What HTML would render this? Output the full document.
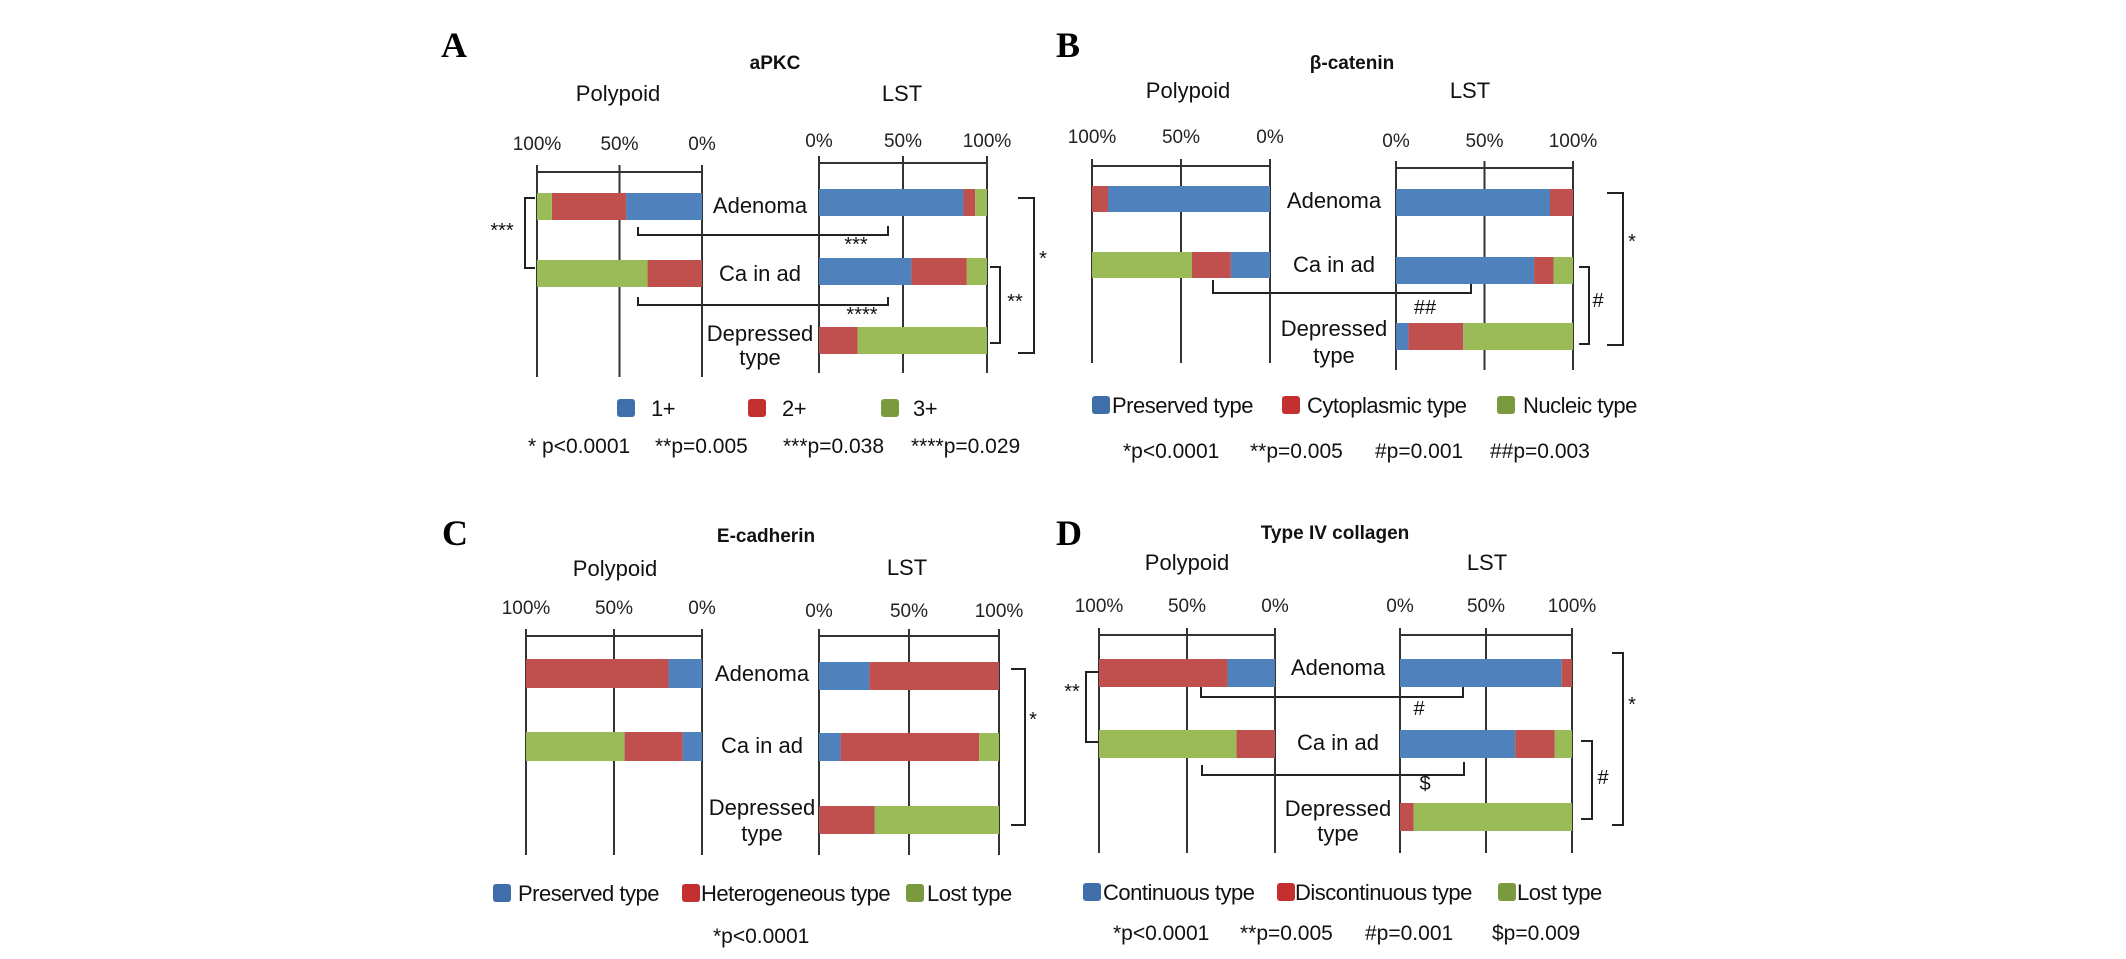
<!DOCTYPE html>
<html><head><meta charset="utf-8"><style>
html,body{margin:0;padding:0;background:#fff;}
svg{display:block;font-family:"Liberation Sans",sans-serif;}
</style></head><body>
<svg id="fig" width="2126" height="959" viewBox="0 0 2126 959" xmlns="http://www.w3.org/2000/svg">
<rect width="2126" height="959" fill="#fff"/>
<g id="static" stroke="#222" stroke-width="2" fill="none">
  <!-- A annotations -->
  <path d="M535,198 H525 V268 H535"/>
  <path d="M638,227 V235 H888 V226"/>
  <path d="M638,297 V305 H888 V297"/>
  <path d="M990,267 H1000 V343 H990"/>
  <path d="M1018,198 H1034 V353 H1018"/>
  <!-- B -->
  <path d="M1213,280 V293 H1471 V278"/>
  <path d="M1579,267 H1589 V344 H1579"/>
  <path d="M1607,193 H1623 V345 H1607"/>
  <!-- C -->
  <path d="M1011,669 H1025 V825 H1011"/>
  <!-- D -->
  <path d="M1098,672 H1086 V742 H1098"/>
  <path d="M1201,687 V697 H1463 V687"/>
  <path d="M1202,765 V775 H1464 V762"/>
  <path d="M1581,741 H1592 V819 H1581"/>
  <path d="M1612,653 H1623 V825 H1612"/>
</g>
<g font-size="20" fill="#111" text-anchor="middle">
  <text x="502" y="237">***</text>
  <text x="856" y="251">***</text>
  <text x="862" y="321">****</text>
  <text x="1015" y="308">**</text>
  <text x="1043" y="265">*</text>
  <text x="1425" y="314">##</text>
  <text x="1598" y="307">#</text>
  <text x="1632" y="248">*</text>
  <text x="1033" y="726">*</text>
  <text x="1072" y="698">**</text>
  <text x="1419" y="715">#</text>
  <text x="1425" y="790">$</text>
  <text x="1603" y="784">#</text>
  <text x="1632" y="711">*</text>
</g>
<g font-family="Liberation Serif,serif" font-weight="bold" font-size="36" fill="#000" text-anchor="middle">
  <text x="454" y="57">A</text>
  <text x="1068" y="57">B</text>
  <text x="455" y="545">C</text>
  <text x="1069" y="545">D</text>
</g>
<g font-weight="bold" font-size="19" fill="#111" text-anchor="middle">
  <text x="775" y="69">aPKC</text>
  <text x="1352" y="69">β-catenin</text>
  <text x="766" y="542">E-cadherin</text>
  <text x="1335" y="539">Type IV collagen</text>
</g>
<g id="charts"></g>
</svg>
<script>
// ---- data (percent) ; polypoid rows: [Adenoma, Ca in ad]; LST rows: [Adenoma, Ca in ad, Depressed type]
const categories = ["Adenoma", "Ca in ad", "Depressed type"];
const tickLabels = ["0%", "50%", "100%"];
const tickValues = [0, 50, 100];

const aPolyBlue = [46, 0];
const aPolyRed = [45, 33];
const aPolyGreen = [9, 67];
const aLstBlue = [86, 55, 0];
const aLstRed = [7, 33, 23];
const aLstGreen = [7, 12, 77];

const bPolyBlue = [91, 22];
const bPolyRed = [9, 22];
const bPolyGreen = [0, 56];
const bLstBlue = [87, 78, 7];
const bLstRed = [13, 11, 31];
const bLstGreen = [0, 11, 62];

const cPolyBlue = [19, 11];
const cPolyRed = [81, 33];
const cPolyGreen = [0, 56];
const cLstBlue = [28, 12, 0];
const cLstRed = [72, 77, 31];
const cLstGreen = [0, 11, 69];

const dPolyBlue = [27, 0];
const dPolyRed = [73, 22];
const dPolyGreen = [0, 78];
const dLstBlue = [94, 67, 0];
const dLstRed = [6, 23, 8];
const dLstGreen = [0, 10, 92];

const aLegend = ["1+", "2+", "3+"];
const bLegend = ["Preserved type", "Cytoplasmic type", "Nucleic type"];
const cLegend = ["Preserved type", "Heterogeneous type", "Lost type"];
const dLegend = ["Continuous type", "Discontinuous type", "Lost type"];
const aNotes = ["* p<0.0001", "**p=0.005", "***p=0.038", "****p=0.029"];
const bNotes = ["*p<0.0001", "**p=0.005", "#p=0.001", "##p=0.003"];
const cNotes = ["*p<0.0001"];
const dNotes = ["*p<0.0001", "**p=0.005", "#p=0.001", "$p=0.009"];

const BAR = ["#4f81bd", "#c0504d", "#9bbb59"];
const LEG = ["#3f6eab", "#c4302f", "#7a9a3e"];
const NS = "http://www.w3.org/2000/svg";
const root = document.getElementById("charts");
function mk(tag, attrs, parent, txt) {
  const e = document.createElementNS(NS, tag);
  for (const k in attrs) e.setAttribute(k, attrs[k]);
  if (txt !== undefined) e.textContent = txt;
  (parent || root).appendChild(e);
  return e;
}

const panels = [
  {id:"a", poly:[aPolyBlue,aPolyRed,aPolyGreen], lst:[aLstBlue,aLstRed,aLstGreen], legend:aLegend, notes:aNotes,
   px100:537, px0:702, lx0:819, lx100:987, pAxis:172, lAxis:163, pBot:377, lBot:373, pTick:143, lTick:140,
   pBars:[193,260], pH:27, lBars:[189,258,327], lH:27, labX:760, labY:[205,273,333,357],
   pHead:[618,93], lHead:[902,93], legY:408, legSq:[617,748,881], legTx:[651,782,913], noteY:445, noteX:[528,655,783,911]},
  {id:"b", poly:[bPolyBlue,bPolyRed,bPolyGreen], lst:[bLstBlue,bLstRed,bLstGreen], legend:bLegend, notes:bNotes,
   px100:1092, px0:1270, lx0:1396, lx100:1573, pAxis:166, lAxis:168, pBot:363, lBot:370, pTick:136, lTick:140,
   pBars:[186,252], pH:26, lBars:[189,257,323], lH:27, labX:1334, labY:[200,264,328,355],
   pHead:[1188,90], lHead:[1470,90], legY:405, legSq:[1092,1282,1497], legTx:[1112,1307,1523], noteY:450, noteX:[1123,1250,1375,1490]},
  {id:"c", poly:[cPolyBlue,cPolyRed,cPolyGreen], lst:[cLstBlue,cLstRed,cLstGreen], legend:cLegend, notes:cNotes,
   px100:526, px0:702, lx0:819, lx100:999, pAxis:636, lAxis:636, pBot:855, lBot:855, pTick:607, lTick:610,
   pBars:[659,732], pH:29, lBars:[662,733,806], lH:28, labX:762, labY:[673,745,807,833],
   pHead:[615,568], lHead:[907,567], legY:893, legSq:[493,682,906], legTx:[518,701,927], noteY:935, noteX:[713]},
  {id:"d", poly:[dPolyBlue,dPolyRed,dPolyGreen], lst:[dLstBlue,dLstRed,dLstGreen], legend:dLegend, notes:dNotes,
   px100:1099, px0:1275, lx0:1400, lx100:1572, pAxis:635, lAxis:635, pBot:853, lBot:853, pTick:605, lTick:605,
   pBars:[659,730], pH:28, lBars:[659,730,803], lH:28, labX:1338, labY:[667,742,808,833],
   pHead:[1187,562], lHead:[1487,562], legY:892, legSq:[1083,1277,1498], legTx:[1103,1295,1517], noteY:932, noteX:[1113,1240,1365,1492]}
];

const segNames = ["seg-blue", "seg-red", "seg-green"];

panels.forEach(P => {
  const g = mk("g", {});
  
  
  const xPoly = v => P.px0 - (P.px0 - P.px100) * v / 100;
  const xLst = v => P.lx0 + (P.lx100 - P.lx0) * v / 100;

  // headings
  let t = mk("text", {x:P.pHead[0], y:P.pHead[1]+8, "font-size":22, "text-anchor":"middle", fill:"#111"}, g, "Polypoid");
  
  
  t = mk("text", {x:P.lHead[0], y:P.lHead[1]+8, "font-size":22, "text-anchor":"middle", fill:"#111"}, g, "LST");
  
  

  // axes + grid
  [[xPoly, P.pAxis, P.pBot, P.pTick, "polypoid"], [xLst, P.lAxis, P.lBot, P.lTick, "lst"]].forEach(([fx, ay, by, ty, nm]) => {
    const ax = mk("line", {x1:fx(0), x2:fx(100), y1:ay, y2:ay, stroke:"#333", "stroke-width":2}, g);
    
    
    tickValues.forEach((v, i) => {
      const gl = mk("line", {x1:fx(v), x2:fx(v), y1:ay-7, y2:by, stroke:"#333", "stroke-width":2}, g);
      
      
      const tl = mk("text", {x:fx(v), y:ty+7, "font-size":19, "text-anchor":"middle", fill:"#222"}, g, tickLabels[i]);
      
      
    });
  });

  // polypoid bars (stack from 0% leftward)
  P.pBars.forEach((y, r) => {
    let acc = 0;
    for (let s = 0; s < 3; s++) {
      const v = P.poly[s][r];
      if (v > 0) {
        const x1 = xPoly(acc + v), x2 = xPoly(acc);
        const rc = mk("rect", {x:x1, y:y, width:x2-x1, height:P.pH, fill:BAR[s]}, g);
        
        
      }
      acc += v;
    }
  });
  // LST bars
  P.lBars.forEach((y, r) => {
    let acc = 0;
    for (let s = 0; s < 3; s++) {
      const v = P.lst[s][r];
      if (v > 0) {
        const x1 = xLst(acc), x2 = xLst(acc + v);
        const rc = mk("rect", {x:x1, y:y, width:x2-x1, height:P.lH, fill:BAR[s]}, g);
        
        
      }
      acc += v;
    }
  });

  // category labels
  const labs = ["Adenoma", "Ca in ad", "Depressed", "type"];
  labs.forEach((l, i) => {
    const c = mk("text", {x:P.labX, y:P.labY[i]+8, "font-size":22, "text-anchor":"middle", fill:"#111"}, g, l);
    
    
  });

  // legend
  P.legend.forEach((l, i) => {
    const sq = mk("rect", {x:P.legSq[i], y:P.legY-9, width:18, height:18, rx:3, fill:LEG[i]}, g);
    
    
    const lt = mk("text", {x:P.legTx[i], y:P.legY+8, "font-size":22, fill:"#111", "letter-spacing":"-0.5"}, g, l);
    
    
  });
  // notes
  P.notes.forEach((n, i) => {
    const nt = mk("text", {x:P.noteX[i], y:P.noteY+8, "font-size":21, fill:"#111"}, g, n);
    
    
  });
});
</script>
</body></html>
